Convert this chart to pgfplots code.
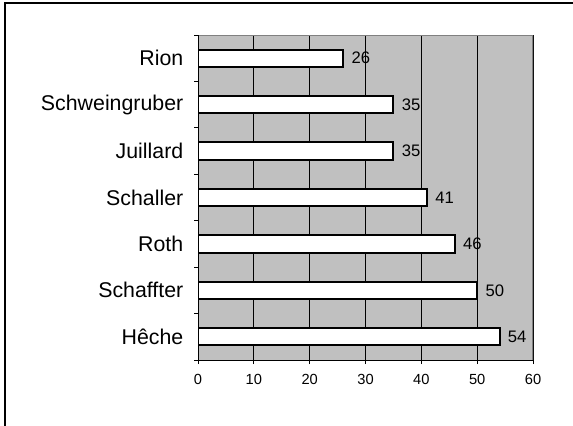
\documentclass[border=0pt]{standalone}
\usepackage{fontspec}
\setmainfont{Liberation Sans}
\usepackage{pgfplots}
\pgfplotsset{compat=1.18}
\definecolor{plotbg}{RGB}{192,192,192}
\definecolor{edgegray}{RGB}{128,128,128}

\begin{document}
\begin{tikzpicture}
% page = 573 x 425 px, 1 px = 0.75pt
\useasboundingbox (0,0) rectangle (429.75pt,-318.75pt);
\draw[line width=1.1pt] (3.9pt,-2.4pt) rectangle (440pt,-330pt);
\begin{axis}[
  at={(148.5pt,-26.25pt)}, anchor=north west,
  scale only axis,
  width=251.25pt, height=243.75pt,
  xbar,
  xmin=0, xmax=60,
  ymin=-0.5, ymax=6.5,
  xtick={0,10,...,60},
  ytick={0,...,6},
  yticklabels={H\^eche,Schaffter,Roth,Schaller,Juillard,Schweingruber,Rion},
  minor ytick={-0.5,0.5,...,6.5},
  major y tick style={draw=none},
  tick align=outside,
  tick pos=left,
  major tick length=3pt,
  minor tick length=3pt,
  every tick/.style={black, line width=0.6pt},
  xmajorgrids,
  major grid style={black, line width=0.6pt},
  axis line style={draw=none},
  axis background/.style={fill=plotbg},
  /pgf/number format/assume math mode=true,
  xticklabel style={font=\fontsize{11}{13}\selectfont, yshift=-4.5pt},
  yticklabel style={font=\fontsize{16}{19}\selectfont, xshift=-4.5pt},
  bar width=13pt,
  nodes near coords,
  every node near coord/.append style={font=\fontsize{12.5}{15}\selectfont, inner sep=0pt, xshift=5.5pt, black},
]
\addplot[draw=black, fill=white, line width=1.5pt] coordinates {
  (54,0) (50,1) (46,2) (41,3) (35,4) (35,5) (26,6)
};
\draw[edgegray, line width=1.6pt] (axis description cs:0,1) -- (axis description cs:1,1) -- (axis description cs:1,0);
\draw[black, line width=0.75pt] (axis description cs:0,1) -- (axis description cs:0,0) -- (axis description cs:1,0);
\end{axis}
\end{tikzpicture}
\end{document}
